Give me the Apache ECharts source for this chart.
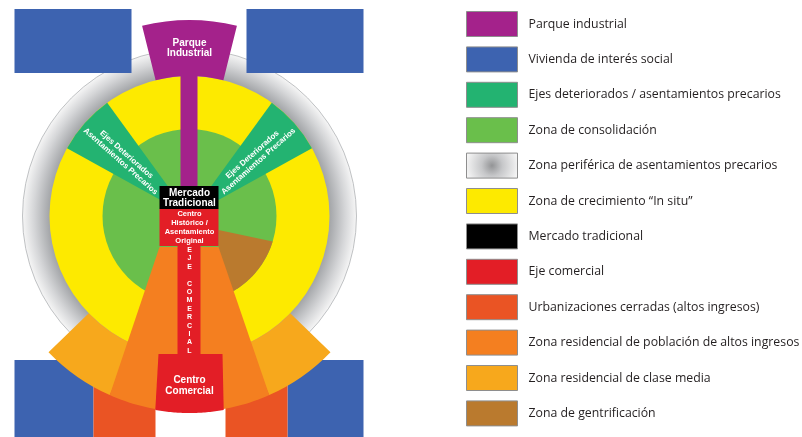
<!DOCTYPE html>
<html lang="es">
<head>
<meta charset="UTF-8">
<title>Modelo de estructura urbana</title>
<script src="https://cdn.jsdelivr.net/npm/echarts@6/dist/echarts.min.js"></script>
<style>
html, body { margin: 0; padding: 0; background: #fff; }
#main { width: 802px; height: 437px; }
</style>
</head>
<body>
<div id="main"></div>
<script>
// zonas, en el orden de la leyenda
var zonas = ['Parque industrial', 'Vivienda de interés social', 'Ejes deteriorados / asentamientos precarios',
  'Zona de consolidación', 'Zona periférica de asentamientos precarios', 'Zona de crecimiento “In situ”',
  'Mercado tradicional', 'Eje comercial', 'Urbanizaciones cerradas (altos ingresos)',
  'Zona residencial de población de altos ingresos', 'Zona residencial de clase media', 'Zona de gentrificación'];
var colores = ['#a4228b', '#3d63b0', '#23b371', '#6abf4b', '#b9babd', '#fdea00',
  '#000000', '#e31e26', '#ea5424', '#f47f20', '#f7a81c', '#ba7a2e'];

// geometría del modelo (centro = mercado, unidades del plano)
// sector: [0, r0, r1, ang0, ang1]  rect: [1, x0, y0, x1, y1]  cuña: [2, xIzq, xDer, yTop, r, ang0, ang1]
var parque = [[0, 140, 196, -14, 14, 0, 0], [1, -9, 140, 8, 29, 0, 0]];
var vivienda = [[1, -175, 207, -58, 143, 0, 0], [1, 57, 207, 174, 143, 0, 0],
  [1, -175, -144, -96, -230, 0, 0], [1, 98, -144, 174, -230, 0, 0]];
var ejes = [[0, 0, 140, -61, -36, 0, 0], [0, 0, 140, 36, 61, 0, 0]];
var consolidacion = [[0, 0, 87, 0, 360, 0, 0]];
var periferia = [[0, 0, 167, 0, 360, 0, 0]];
var crecimiento = [[0, 0, 140, 0, 360, 0, 0]];
var mercado = [[1, -30, 30, 29, 7, 0, 0]];
var ejeComercial = [[1, -30, 7, 29, -30, 0, 0], [1, -12, -29, 11, -140, 0, 0], [2, -31, 33, -138, 197, 170, 190]];
var urbanizaciones = [[1, -96, -168, -34, -230, 0, 0], [1, 36, -168, 98, -230, 0, 0]];
var altosIngresos = [[2, -30, 29, -31, 196, 156, 204]];
var claseMedia = [[0, 140, 196, 204, 226, 0, 0], [0, 140, 196, 134, 156, 0, 0]];
var gentrificacion = [[2, 29, 29, -14, 87, 107, 160]];

var rotulos = ['Parque\nIndustrial', 'Mercado\nTradicional', 'Centro\nHistórico /\nAsentamiento\nOriginal',
  'E\nJ\nE\n\nC\nO\nM\nE\nR\nC\nI\nA\nL', 'Centro\nComercial',
  'Ejes Deteriorados\nAsentamientos Precarios', 'Ejes Deteriorados\nAsentamientos Precarios'];
var rotuloPos = [[0, 168, 0], [0, 18, 0], [0, -11.5, 0], [0, -84.5, 0], [0, -169.5, 0], [-66, 58, -41.5], [66, 58, 41.5]];
var rotuloTam = [[10, 10.5], [10, 10], [7.5, 9], [7, 8.4], [10, 11], [8, 9], [8, 9]];

function polar(r, a) {
  var t = a * Math.PI / 180;
  return [r * Math.sin(t), r * Math.cos(t)];
}

function dibujo(extra) {
  return function (params, api) {
    var k = api.value(0);
    var v = [1, 2, 3, 4, 5, 6].map(function (i) { return api.value(i); });
    var st = Object.assign({ fill: api.visual('color') }, extra || {});
    if (k === 0) {
      var c = api.coord([0, 0]);
      return {
        type: 'sector',
        shape: { cx: c[0], cy: c[1], r0: api.size([v[0], 0])[0], r: api.size([v[1], 0])[0],
          startAngle: (v[2] - 90) * Math.PI / 180, endAngle: (v[3] - 90) * Math.PI / 180, clockwise: true },
        style: st
      };
    }
    if (k === 1) {
      var p0 = api.coord([v[0], v[1]]), p1 = api.coord([v[2], v[3]]);
      return {
        type: 'rect',
        shape: { x: Math.min(p0[0], p1[0]), y: Math.min(p0[1], p1[1]),
          width: Math.abs(p1[0] - p0[0]), height: Math.abs(p1[1] - p0[1]) },
        style: st
      };
    }
    var pts = [api.coord([v[0], v[2]]), api.coord([v[1], v[2]])];
    var n = 40;
    for (var i = 0; i <= n; i++) pts.push(api.coord(polar(v[3], v[4] + (v[5] - v[4]) * i / n)));
    return { type: 'polygon', shape: { points: pts }, style: st };
  };
}

var gradAnillo = { type: 'radial', x: 0.5, y: 0.5, r: 0.5, colorStops: [
  { offset: 0, color: '#a3a5a8' }, { offset: 0.84, color: '#a5a7aa' },
  { offset: 0.93, color: '#d5d6d8' }, { offset: 1, color: '#f7f7f7' }] };
var gradLeyenda = { type: 'radial', x: 0.5, y: 0.5, r: 1, colorStops: [
  { offset: 0, color: '#939496' }, { offset: 0.4, color: '#c6c7c9' }, { offset: 1, color: '#f4f4f4' }] };

// orden de dibujo (de abajo hacia arriba)
var capas = [
  [4, periferia, { stroke: '#b0b2b5', lineWidth: 0.8 }],
  [1, vivienda], [8, urbanizaciones], [5, crecimiento], [3, consolidacion], [11, gentrificacion],
  [2, ejes], [0, parque], [10, claseMedia], [9, altosIngresos], [7, ejeComercial], [6, mercado]
];

var series = capas.map(function (c) {
  return {
    type: 'custom', name: zonas[c[0]], coordinateSystem: 'cartesian2d',
    itemStyle: { color: c[0] === 4 ? gradAnillo : colores[c[0]] },
    renderItem: dibujo(c[2]), data: c[1], silent: true
  };
});
series.push({
  type: 'custom', name: 'rotulos', coordinateSystem: 'cartesian2d', silent: true,
  data: rotuloPos,
  renderItem: function (params, api) {
    var i = params.dataIndex;
    var p = api.coord([api.value(0), api.value(1)]);
    return {
      type: 'text', x: p[0], y: p[1], rotation: api.value(2) * Math.PI / 180,
      style: { text: rotulos[i], fill: '#ffffff', fontWeight: 'bold', fontSize: rotuloTam[i][0],
        fontFamily: '"Liberation Sans", Arial, sans-serif', lineHeight: rotuloTam[i][1],
        align: 'center', verticalAlign: 'middle' }
    };
  }
});

var chart = echarts.init(document.getElementById('main'));
chart.setOption({
  animation: false,
  grid: { left: 0, right: 0, top: 0, bottom: 0 },
  xAxis: { type: 'value', min: -189.5, max: 612.5, show: false },
  yAxis: { type: 'value', min: -221, max: 216, show: false },
  legend: {
    orient: 'vertical', left: 466, top: 11, icon: 'rect', padding: 0,
    itemWidth: 51, itemHeight: 25, itemGap: 9.4, selectedMode: false,
    itemStyle: { borderColor: '#8e8e8e', borderWidth: 1 },
    textStyle: { color: '#231f20', fontSize: 12.3, fontFamily: '"Open Sans", sans-serif', padding: [0, 0, 0, 6] },
    data: zonas.map(function (n, i) {
      return i === 4 ? { name: n, itemStyle: { color: gradLeyenda } } : n;
    })
  },
  series: series
});
</script>
</body>
</html>
